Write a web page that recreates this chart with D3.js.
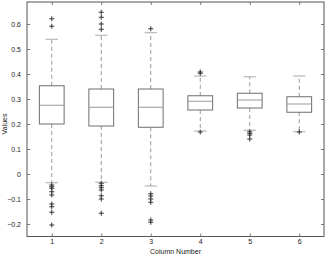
<!DOCTYPE html>
<html>
<head>
<meta charset="utf-8">
<script src="https://cdn.jsdelivr.net/npm/d3@7"></script>
<style>
  body { margin:0; background:#fff; }
  svg text { font-family:"Liberation Sans", Arial, sans-serif; font-size:7px; fill:#222; }
</style>
</head>
<body>
<div id="chart"></div>
<script>
// box statistics, one entry per column
const columns = [1, 2, 3, 4, 5, 6];
const q1 = [0.200, 0.192, 0.187, 0.256, 0.264, 0.247];
const medians = [0.275, 0.267, 0.267, 0.291, 0.296, 0.280];
const q3 = [0.353, 0.340, 0.340, 0.313, 0.323, 0.309];
const whiskerLow = [-0.035, -0.033, -0.048, 0.172, 0.175, 0.169];
const whiskerHigh = [0.539, 0.555, 0.565, 0.392, 0.389, 0.392];
const outliers = [
  [0.621, 0.591, -0.044, -0.051, -0.057, -0.071, -0.084, -0.120, -0.131, -0.153, -0.204],
  [0.647, 0.627, 0.600, 0.579, -0.037, -0.047, -0.055, -0.064, -0.087, -0.100, -0.157],
  [0.581, -0.079, -0.088, -0.100, -0.113, -0.184, -0.193],
  [0.408, 0.403, 0.168],
  [0.169, 0.163, 0.156, 0.140],
  [0.168]
];
const yTicks = [-0.2, -0.1, 0, 0.1, 0.2, 0.3, 0.4, 0.5, 0.6];

const W = 327, H = 256;
const margin = {left:27, right:3, top:2, bottom:19.5};

const svg = d3.select('#chart').append('svg')
  .attr('width', W)
  .attr('height', H);

const x = d3.scaleLinear().domain([0.5, 6.5]).range([margin.left, W - margin.right]);
const y = d3.scaleLinear().domain([-0.25, 0.688]).range([H - margin.bottom, margin.top]);

const boxHalf = 0.25, capHalf = 0.125;
const stroke = '#6e6e6e';

// frame
svg.append('rect')
  .attr('x', x(0.5)).attr('y', y(0.688))
  .attr('width', x(6.5) - x(0.5)).attr('height', y(-0.25) - y(0.688))
  .attr('fill', 'none').attr('stroke', '#555').attr('stroke-width', 1);

// axes with inward ticks
const xAxis = d3.axisBottom(x).tickValues(columns).tickSize(-3).tickPadding(3).tickFormat(d3.format('d'));
const xAxisTop = d3.axisTop(x).tickValues(columns).tickSize(-3).tickFormat('');
const yAxis = d3.axisLeft(y).tickValues(yTicks).tickSize(-3).tickPadding(6).tickFormat(d => d === 0 ? '0' : d3.format('.1f')(d));
const yAxisRight = d3.axisRight(y).tickValues(yTicks).tickSize(-3).tickFormat('');

function styleAxis(g) {
  g.select('.domain').remove();
  g.selectAll('.tick line').attr('stroke', '#777');
  g.selectAll('text').attr('font-size', 6.5).attr('fill', '#222')
    .attr('font-family', '"Liberation Sans", Arial, sans-serif');
}
svg.append('g').attr('transform', `translate(0,${y(-0.25)})`).call(xAxis).call(styleAxis);
svg.append('g').attr('transform', `translate(0,${y(0.688)})`).call(xAxisTop).call(styleAxis);
svg.append('g').attr('transform', `translate(${x(0.5)},0)`).call(yAxis).call(styleAxis);
svg.append('g').attr('transform', `translate(${x(6.5)},0)`).call(yAxisRight).call(styleAxis);

// axis titles
svg.append('text')
  .attr('x', (x(0.5) + x(6.5)) / 2).attr('y', 254)
  .attr('text-anchor', 'middle')
  .text('Column Number');
svg.append('text')
  .attr('transform', `translate(7,${y(0.2)}) rotate(-90)`)
  .attr('text-anchor', 'middle')
  .text('Values');

const boxes = svg.append('g').selectAll('g')
  .data(columns)
  .join('g');

// whiskers
boxes.append('line')
  .attr('x1', d => x(d)).attr('x2', d => x(d))
  .attr('y1', (d, i) => y(q3[i])).attr('y2', (d, i) => y(whiskerHigh[i]))
  .attr('stroke', '#999').attr('stroke-dasharray', '4,3');
boxes.append('line')
  .attr('x1', d => x(d)).attr('x2', d => x(d))
  .attr('y1', (d, i) => y(q1[i])).attr('y2', (d, i) => y(whiskerLow[i]))
  .attr('stroke', '#999').attr('stroke-dasharray', '4,3');

// caps
[whiskerHigh, whiskerLow].forEach(arr => {
  boxes.append('line')
    .attr('x1', d => x(d - capHalf)).attr('x2', d => x(d + capHalf))
    .attr('y1', (d, i) => y(arr[i])).attr('y2', (d, i) => y(arr[i]))
    .attr('stroke', '#aaa');
});

// box
boxes.append('rect')
  .attr('x', d => x(d - boxHalf))
  .attr('width', d => x(d + boxHalf) - x(d - boxHalf))
  .attr('y', (d, i) => y(q3[i]))
  .attr('height', (d, i) => y(q1[i]) - y(q3[i]))
  .attr('fill', 'none').attr('stroke', stroke);

// median
boxes.append('line')
  .attr('x1', d => x(d - boxHalf)).attr('x2', d => x(d + boxHalf))
  .attr('y1', (d, i) => y(medians[i])).attr('y2', (d, i) => y(medians[i]))
  .attr('stroke', '#999');

// outliers as plus signs
boxes.selectAll('path.out')
  .data((d, i) => outliers[i].map(v => ({c:d, v:v})))
  .join('path')
  .attr('class', 'out')
  .attr('d', o => `M${x(o.c) - 2.5},${y(o.v)}h5M${x(o.c)},${y(o.v) - 2.5}v5`)
  .attr('stroke', '#333').attr('stroke-width', 1);
</script>
</body>
</html>
